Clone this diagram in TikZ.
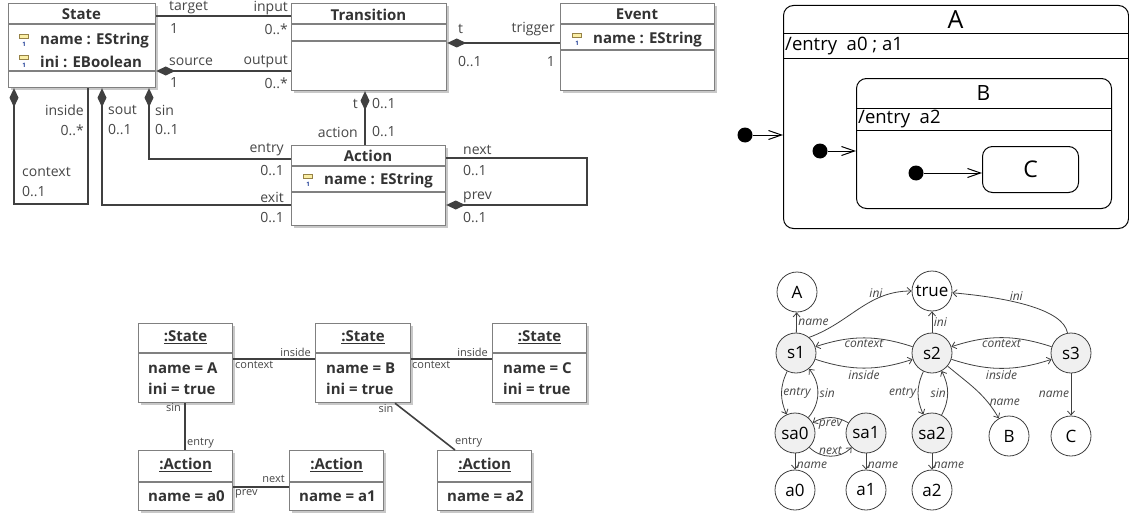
\documentclass[tikz,border=0pt]{standalone}
\usepackage{fontspec}
\setmainfont{Open Sans}
\usetikzlibrary{arrows.meta, positioning, shadows}

\definecolor{linecol}{RGB}{64,64,64}
\definecolor{boxcol}{RGB}{128,128,128}
\definecolor{shadowcol}{RGB}{200,200,200}
\definecolor{iconfill}{RGB}{250,238,165}
\definecolor{iconline}{RGB}{150,130,70}
\definecolor{iconnum}{RGB}{30,60,150}
\definecolor{gnodefill}{RGB}{240,240,240}
\definecolor{labelcol}{RGB}{70,70,70}

% attribute row: icon, text, x, y, name
\newcommand{\attrrow}[4]{%
  \filldraw[fill=iconfill, draw=iconline, line width=0.6pt] (#1-4.5,#2-7) rectangle (#1+4.5,#2-2.5);
  \node[font=\fontsize{6}{6}\selectfont\bfseries, text=iconnum, inner sep=0pt] (#4Icon) at (#1,#2+3) {1};
  \node[attrtext, anchor=west] (#4) at (#1+16,#2) {#3};
}

\begin{document}
\begin{tikzpicture}[x=1pt, y=-1pt]

    \tikzset{
    % class diagram
    classbox/.style={draw=boxcol, line width=1.2pt, fill=white, anchor=north west, inner sep=0pt,
        drop shadow={shadow xshift=2.5pt, shadow yshift=-2.5pt, fill=shadowcol, opacity=1}},
    boxline/.style={draw=boxcol, line width=1.2pt},
    classtitle/.style={font=\fontsize{15}{18}\selectfont\bfseries, text=black!80, inner sep=0pt},
    attrtext/.style={font=\fontsize{15}{18}\selectfont\bfseries, text=black!80, inner sep=0pt},
    rolelabel/.style={font=\fontsize{14}{17}\selectfont, text=labelcol, inner sep=0pt},
    assoc/.style={draw=linecol, line width=1.5pt},
    owns/.style={assoc, {Diamond[length=19pt, width=9pt]}-},
    % statechart
    statebox/.style={draw=black, line width=1pt, rounded corners=10pt, anchor=north west, inner sep=0pt},
    stateline/.style={draw=black, line width=1pt},
    initdot/.style={circle, fill=black, minimum size=15pt, inner sep=0pt},
    initarrow/.style={draw=black, line width=1pt, -{Straight Barb[length=13pt, width=9pt]}},
    % object diagram
    objbox/.style={classbox},
    objtitle/.style={font=\fontsize{15}{18}\selectfont\bfseries, text=black!80, inner sep=0pt},
    objattr/.style={font=\fontsize{15}{18}\selectfont\bfseries, text=black!80, inner sep=0pt, anchor=west},
    link/.style={draw=linecol, line width=1.6pt},
    linklabel/.style={font=\fontsize{11}{13}\selectfont, text=labelcol, inner sep=0pt},
    % graph
    gnode/.style={circle, draw=linecol, line width=0.8pt, minimum size=40pt, inner sep=0pt,
        font=\fontsize{17}{17}\selectfont, fill=white},
    snode/.style={gnode, fill=gnodefill},
    gedge/.style={draw=linecol, line width=0.8pt, -{Straight Barb[length=4pt, width=7pt]}},
    elabel/.style={font=\fontsize{12}{14}\selectfont\itshape, text=labelcol, inner sep=1.5pt}
    }

    \useasboundingbox (0,0) rectangle (1129,519);

    % ---------------- class diagram ----------------
    \node[classbox, minimum width=147pt, minimum height=84pt] (State) at (8,3) {};
    \node[classbox, minimum width=155pt, minimum height=87pt] (Transition) at (291,3) {};
    \node[classbox, minimum width=154pt, minimum height=87pt] (Event) at (560,3) {};
    \node[classbox, minimum width=154pt, minimum height=80pt] (Action) at (291,145) {};

    % compartments
    \draw[boxline] (State.west |- 0,24) -- (State.east |- 0,24);
    \draw[boxline] (State.west |- 0,71) -- (State.east |- 0,71);
    \draw[boxline] (Transition.west |- 0,24) -- (Transition.east |- 0,24);
    \draw[boxline] (Transition.west |- 0,41) -- (Transition.east |- 0,41);
    \draw[boxline] (Event.west |- 0,24) -- (Event.east |- 0,24);
    \draw[boxline] (Event.west |- 0,50) -- (Event.east |- 0,50);
    \draw[boxline] (Action.west |- 0,166) -- (Action.east |- 0,166);
    \draw[boxline] (Action.west |- 0,192) -- (Action.east |- 0,192);

    \node[classtitle] (stateTitle) at (81.5,14.5) {State};
    \attrrow{24}{41}{name : EString}{stateName}
    \attrrow{24}{62}{ini : EBoolean}{stateIni}
    \node[classtitle] (transTitle) at (368.5,14.5) {Transition};
    \node[classtitle] (eventTitle) at (637,14.5) {Event};
    \attrrow{577}{40}{name : EString}{eventName}
    \node[classtitle] (actionTitle) at (368,156) {Action};
    \attrrow{308}{181}{name : EString}{actionName}

    % associations
    \draw[assoc] (State.east |- 0,16) -- (Transition.west |- 0,16);
    \draw[owns] (State.east |- 0,71) -- (Transition.west |- 0,71);
    \draw[owns] (Transition.east |- 0,43) -- (Event.west |- 0,43);
    \draw[owns] (Transition.south -| 365,0) -- (Action.north -| 365,0);
    \draw[owns] (State.south -| 149,0) |- (Action.west |- 0,159);
    \draw[owns] (State.south -| 102,0) |- (Action.west |- 0,205);
    \draw[owns] (State.south -| 14,0) -- (14,204) -- (88,204) -- (State.south -| 88,0);
    \draw[owns] (Action.east |- 0,205) -- (587,205) -- (587,158) -- (Action.east |- 0,158);

    % role names
    \node[rolelabel, anchor=west] (lTarget) at (169,8) {target};
    \node[rolelabel, anchor=east] (lInput) at (288,8) {input};
    \node[rolelabel, anchor=west] (lTargetM) at (170,29) {1};
    \node[rolelabel, anchor=east] (lInputM) at (288,29) {0..*};
    \node[rolelabel, anchor=west] (lSource) at (169,62) {source};
    \node[rolelabel, anchor=east] (lOutput) at (288,62) {output};
    \node[rolelabel, anchor=west] (lSourceM) at (170,83) {1};
    \node[rolelabel, anchor=east] (lOutputM) at (288,83) {0..*};
    \node[rolelabel, anchor=west] (lT) at (458,29) {t};
    \node[rolelabel, anchor=east] (lTrigger) at (555,29) {trigger};
    \node[rolelabel, anchor=west] (lTM) at (458,62) {0..1};
    \node[rolelabel, anchor=east] (lTriggerM) at (555,62) {1};
    \node[rolelabel, anchor=east] (lT2) at (358,104) {t};
    \node[rolelabel, anchor=west] (lT2M) at (372,104) {0..1};
    \node[rolelabel, anchor=east] (lAction) at (358,132) {action};
    \node[rolelabel, anchor=west] (lActionM) at (372,132) {0..1};
    \node[rolelabel, anchor=east] (lInside) at (84,110) {inside};
    \node[rolelabel, anchor=east] (lInsideM) at (84,130) {0..*};
    \node[rolelabel, anchor=west] (lContext) at (22,172) {context};
    \node[rolelabel, anchor=west] (lContextM) at (22,192) {0..1};
    \node[rolelabel, anchor=west] (lSout) at (108,110) {sout};
    \node[rolelabel, anchor=west] (lSoutM) at (108,130) {0..1};
    \node[rolelabel, anchor=west] (lSin) at (155,110) {sin};
    \node[rolelabel, anchor=west] (lSinM) at (155,130) {0..1};
    \node[rolelabel, anchor=east] (lEntry) at (284,150) {entry};
    \node[rolelabel, anchor=east] (lEntryM) at (284,171) {0..1};
    \node[rolelabel, anchor=east] (lExit) at (284,197) {exit};
    \node[rolelabel, anchor=east] (lExitM) at (284,218) {0..1};
    \node[rolelabel, anchor=west] (lNext) at (463,150) {next};
    \node[rolelabel, anchor=west] (lNextM) at (463,171) {0..1};
    \node[rolelabel, anchor=west] (lPrev) at (463,197) {prev};
    \node[rolelabel, anchor=west] (lPrevM) at (463,218) {0..1};

    % ---------------- statechart ----------------
    \node[statebox, minimum width=345pt, minimum height=223pt] (stA) at (783,5) {};
    \draw[stateline] (stA.west |- 0,34) -- (stA.east |- 0,34);
    \draw[stateline] (stA.west |- 0,59) -- (stA.east |- 0,59);
    \node[font=\fontsize{25}{25}\selectfont, inner sep=0pt] (stATitle) at (955.5,20) {A};
    \node[font=\fontsize{18.5}{18.5}\selectfont, inner sep=0pt, anchor=west] (stAEntry) at (785,46) {/entry\ \ a0 ; a1};

    \node[statebox, minimum width=255pt, minimum height=130pt] (stB) at (856,78) {};
    \draw[stateline] (stB.west |- 0,108) -- (stB.east |- 0,108);
    \draw[stateline] (stB.west |- 0,130) -- (stB.east |- 0,130);
    \node[font=\fontsize{21}{21}\selectfont, inner sep=0pt] (stBTitle) at (983.5,93) {B};
    \node[font=\fontsize{18.5}{18.5}\selectfont, inner sep=0pt, anchor=west] (stBEntry) at (858,119) {/entry\ \ a2};

    \node[statebox, minimum width=96pt, minimum height=46pt] (stC) at (982,146) {};
    \node[font=\fontsize{23}{23}\selectfont, inner sep=0pt] (stCTitle) at (stC.center) {C};

    \node[initdot] (initA) at (745,135) {};
    \node[initdot] (initB) at (820,151) {};
    \node[initdot] (initC) at (916,173) {};
    \draw[initarrow] (initA) -- (initA -| stA.west);
    \draw[initarrow] (initB) -- (initB -| stB.west);
    \draw[initarrow] (initC) -- (initC -| stC.west);

    % ---------------- object diagram ----------------
    \node[objbox, minimum width=94pt, minimum height=79pt] (objA) at (138,323) {};
    \node[objbox, minimum width=95pt, minimum height=79pt] (objB) at (315,323) {};
    \node[objbox, minimum width=94pt, minimum height=79pt] (objC) at (492,323) {};
    \node[objbox, minimum width=94pt, minimum height=60pt] (objA0) at (138,450) {};
    \node[objbox, minimum width=94pt, minimum height=60pt] (objA1) at (289,450) {};
    \node[objbox, minimum width=94pt, minimum height=60pt] (objA2) at (437,450) {};

    \foreach \o in {objA, objB, objC}
        \draw[boxline] (\o.west |- 0,353) -- (\o.east |- 0,353);
    \foreach \o in {objA0, objA1, objA2}
        \draw[boxline] (\o.west |- 0,482) -- (\o.east |- 0,482);

    \node[objtitle] (objATitle) at (objA.north |- 0,337) {\underline{:State}};
    \node[objattr] (objAName) at (148,368) {name = A};
    \node[objattr] (objAIni) at (148,389) {ini = true};
    \node[objtitle] (objBTitle) at (objB.north |- 0,337) {\underline{:State}};
    \node[objattr] (objBName) at (326,368) {name = B};
    \node[objattr] (objBIni) at (326,389) {ini = true};
    \node[objtitle] (objCTitle) at (objC.north |- 0,337) {\underline{:State}};
    \node[objattr] (objCName) at (503,368) {name = C};
    \node[objattr] (objCIni) at (503,389) {ini = true};
    \node[objtitle] (objA0Title) at (objA0.north |- 0,465) {\underline{:Action}};
    \node[objattr] (objA0Name) at (148,496) {name = a0};
    \node[objtitle] (objA1Title) at (objA1.north |- 0,465) {\underline{:Action}};
    \node[objattr] (objA1Name) at (299,496) {name = a1};
    \node[objtitle] (objA2Title) at (objA2.north |- 0,465) {\underline{:Action}};
    \node[objattr] (objA2Name) at (447,496) {name = a2};

    % links
    \draw[link] (objA.east |- 0,359) -- (objB.west |- 0,359);
    \draw[link] (objB.east |- 0,359) -- (objC.west |- 0,359);
    \draw[link] (objA.south -| 185,0) -- (objA0.north -| 185,0);
    \draw[link] (objA0.east |- 0,487) -- (objA1.west |- 0,487);
    \draw[link] (objB.south -| 395,0) -- (objA2.north -| 455,0);

    \node[linklabel, anchor=east] (oInsideB) at (311,352) {inside};
    \node[linklabel, anchor=west] (oContextA) at (235,365) {context};
    \node[linklabel, anchor=east] (oInsideC) at (488,352) {inside};
    \node[linklabel, anchor=west] (oContextB) at (412,365) {context};
    \node[linklabel, anchor=east] (oSinA) at (181,408) {sin};
    \node[linklabel, anchor=west] (oEntryA0) at (187,443) {entry};
    \node[linklabel, anchor=east] (oNext) at (285,479) {next};
    \node[linklabel, anchor=west] (oPrev) at (235,494) {prev};
    \node[linklabel] (oSinB) at (386,409) {sin};
    \node[linklabel, anchor=west] (oEntryA2) at (455,442) {entry};

    % ---------------- graph ----------------
    \node[gnode] (gA) at (797,292) {A};
    \node[gnode] (gTrue) at (932,291) {true};
    \node[snode] (s1) at (796,353) {s1};
    \node[snode] (s2) at (932,353) {s2};
    \node[snode] (s3) at (1071,353) {s3};
    \node[snode] (sa0) at (795,433) {sa0};
    \node[snode] (sa1) at (866,433) {sa1};
    \node[snode] (sa2) at (932,433) {sa2};
    \node[gnode] (gB) at (1009,436) {B};
    \node[gnode] (gC) at (1071,436) {C};
    \node[gnode] (ga0) at (795,490) {a0};
    \node[gnode] (ga1) at (866,490) {a1};
    \node[gnode] (ga2) at (932,490) {a2};

    \draw[gedge] (s1) -- node[elabel, right] (eName1) {name} (gA);
    \draw[gedge] (s1.50) to[out=20, in=180] node[elabel, above, pos=0.68] (eIni1) {ini} (gTrue);
    \draw[gedge] (s2) -- node[elabel, right] (eIni2) {ini} (gTrue);
    \draw[gedge] (s3) to[out=100, in=-5, out looseness=0.5, in looseness=1.2] node[elabel, above, pos=0.6] (eIni3) {ini} (gTrue);
    \draw[gedge] (s2) to[bend right=18] node[elabel, below] (eCtx1) {context} (s1);
    \draw[gedge] (s1) to[bend right=18] node[elabel, below] (eIns1) {inside} (s2);
    \draw[gedge] (s3) to[bend right=18] node[elabel, below] (eCtx2) {context} (s2);
    \draw[gedge] (s2) to[bend right=18] node[elabel, below] (eIns2) {inside} (s3);
    \draw[gedge] (s1) to[bend right=25] node[elabel, right] (eEntry1) {entry} (sa0);
    \draw[gedge] (sa0) to[bend right=40] node[elabel, right] (eSin1) {sin} (s1);
    \draw[gedge] (s2) to[bend right=25] node[elabel, left] (eEntry2) {entry} (sa2);
    \draw[gedge] (sa2) to[bend right=28] node[elabel, left] (eSin2) {sin} (s2);
    \draw[gedge] (s2.-40) to[out=-40, in=120] node[elabel, right, pos=0.75] (eNameB) {name} (gB);
    \draw[gedge] (s3) -- node[elabel, left] (eNameC) {name} (gC);
    \draw[gedge] (sa0) to[bend right=45] node[elabel, above] (eNext) {next} (sa1);
    \draw[gedge] (sa1) to[bend right=30] node[elabel, below] (ePrev) {prev} (sa0);
    \draw[gedge] (sa0) -- node[elabel, right, pos=0.75] (eNameA0) {name} (ga0);
    \draw[gedge] (sa1) -- node[elabel, right, pos=0.75] (eNameA1) {name} (ga1);
    \draw[gedge] (sa2) -- node[elabel, right, pos=0.75] (eNameA2) {name} (ga2);

\end{tikzpicture}
\end{document}
